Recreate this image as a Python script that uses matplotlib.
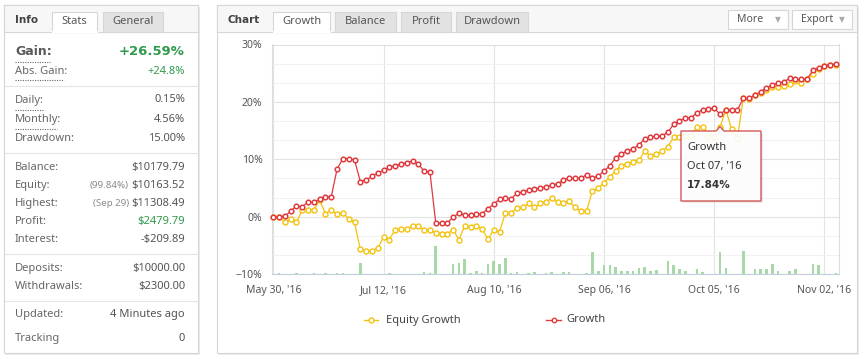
import matplotlib.pyplot as plt
from matplotlib.patches import Rectangle, Polygon
import numpy as np

plt.rcParams['font.family'] = ['Noto Sans', 'DejaVu Sans']
BOLD = ['DejaVu Sans']

# growth in % for every point on the chart (red line)
growth = [0.0, 0.0, 0.1, 0.9, 1.9, 1.7, 2.6, 2.5, 3.0, 3.5,
          3.5, 8.3, 10.1, 10.1, 9.9, 6.1, 6.4, 7.0, 7.6, 8.1,
          8.6, 8.9, 9.2, 9.4, 9.7, 9.2, 7.9, 7.8, -1.1, -1.1,
          -1.1, -0.1, 0.6, 0.3, 0.2, 0.4, 0.5, 1.4, 2.2, 3.0,
          3.2, 3.1, 4.1, 4.3, 4.6, 4.8, 5.0, 5.2, 5.5, 5.7,
          6.4, 6.7, 6.7, 6.7, 7.3, 6.7, 7.1, 7.9, 8.9, 10.2,
          11.0, 11.4, 11.8, 12.5, 13.5, 13.8, 14.0, 14.1, 14.7, 16.1,
          16.7, 17.2, 17.2, 18.1, 18.6, 18.8, 18.9, 17.84, 18.6, 18.6,
          18.6, 20.6, 20.6, 21.2, 21.7, 22.5, 22.9, 23.3, 23.5, 24.1,
          23.9, 23.9, 24.0, 25.5, 25.9, 26.3, 26.5, 26.59]

# equity growth in % (yellow line)
equity_growth = [0.0, 0.0, -1.0, -0.5, -1.0, 1.2, 1.2, 1.2, 2.9, 0.5,
                 1.2, 0.4, 0.7, -0.4, -1.0, -5.7, -6.0, -6.0, -5.5, -3.6,
                 -4.0, -2.3, -2.2, -2.2, -1.6, -1.6, -2.3, -2.4, -2.8, -3.0,
                 -3.0, -2.3, -4.0, -1.6, -1.8, -1.6, -2.2, -3.9, -2.3, -2.6,
                 0.6, 0.6, 1.5, 1.6, 2.3, 1.6, 2.3, 2.6, 3.2, 2.5,
                 2.3, 2.7, 1.6, 1.0, 1.0, 4.5, 5.0, 5.9, 6.9, 8.0,
                 8.9, 9.2, 9.6, 9.8, 11.4, 10.6, 10.9, 11.4, 12.2, 13.8,
                 13.8, 14.0, 14.0, 15.7, 15.7, 13.9, 13.9, 15.6, 18.6, 15.2,
                 13.7, 20.6, 20.5, 21.2, 21.6, 22.0, 22.6, 22.6, 22.7, 23.1,
                 23.6, 23.3, 23.9, 24.9, 25.8, 26.2, 26.4, 26.5]

# small green bars along the bottom (height in % units above -10%)
activity = [0, 0.15, 0, 0, 0.15, 0, 0, 0.15, 0, 0.15,
            0, 0.2, 0.2, 0, 0, 1.9, 0, 0, 0, 0,
            0.15, 0, 0, 0, 0, 0, 0.3, 0.2, 4.8, 0,
            0, 1.7, 2.0, 2.7, 0.2, 0.5, 0.2, 1.7, 2.2, 1.8,
            2.8, 0.2, 0.3, 0, 0.2, 0.3, 0, 0.2, 0.3, 0,
            0.3, 0.3, 0, 0, 0.2, 3.8, 0.5, 1.5, 1.5, 1.2,
            0.6, 0.6, 0.6, 1.0, 1.2, 0.6, 0.7, 0, 2.3, 1.6,
            0.8, 0.6, 0, 0.8, 0.3, 0, 0, 3.8, 1.0, 0,
            0, 4.0, 0, 0.8, 0.8, 0.8, 1.8, 0.6, 0, 0.6,
            0.8, 0, 0, 1.8, 1.5, 0, 0, 0.2]

x_ticks = [0, 19, 38, 57, 76, 95]
x_labels = ["May 30, '16", "Jul 12, '16", "Aug 10, '16",
            "Sep 06, '16", "Oct 05, '16", "Nov 02, '16"]
y_ticks = [-10, 0, 10, 20, 30]
y_labels = ['\u221210%', '0%', '10%', '20%', '30%']

tip_idx = 77
tip_date = "Oct 07, '16"

gain_rows = [("Abs. Gain:", "+24.8%")]
rate_rows = [("Daily:", "0.15%"), ("Monthly:", "4.56%"), ("Drawdown:", "15.00%")]
money_rows = [("Balance:", "", "$10179.79"), ("Equity:", "(99.84%)", "$10163.52"),
              ("Highest:", "(Sep 29)", "$11308.49"), ("Profit:", "", "$2479.79"),
              ("Interest:", "", "-$209.89")]
flow_rows = [("Deposits:", "$10000.00"), ("Withdrawals:", "$2300.00")]

RED = '#e0393e'
YELLOW = '#f4c20d'
GREEN = '#2f9a4c'
LABEL = '#666666'
VALUE = '#555555'
BORDER = '#d6d6d6'

fig = plt.figure(figsize=(8.64, 3.59), dpi=100)
fig.patch.set_facecolor('white')

# page layer in pixel coordinates
bg = fig.add_axes([0, 0, 1, 1])
bg.set_xlim(0, 864)
bg.set_ylim(359, 0)
bg.axis('off')


def box(x0, y0, x1, y1, fc='white', ec=BORDER, lw=0.8, z=1):
    bg.add_patch(Rectangle((x0, y0), x1 - x0, y1 - y0, facecolor=fc,
                           edgecolor=ec, linewidth=lw, zorder=z))


def hline(x0, x1, y, color='#e4e4e4'):
    bg.plot([x0, x1], [y, y], color=color, lw=0.8, zorder=3)


def dots(x0, x1, y):
    bg.plot([x0, x1], [y, y], color='#666666', lw=0.8, ls=(0, (1, 1.2)), zorder=3)


# panels with a soft shadow
for x0, x1 in [(4, 198), (217, 857)]:
    box(x0 + 2, 7, x1 + 2, 355, fc='#ebebeb', ec='none', z=0)
    box(x0, 5, x1, 353, z=1)
    box(x0, 5, x1, 32, fc='#f7f7f7', z=2)

# left panel header tabs
bg.text(15, 20, 'Info', fontsize=7.5, fontweight='bold', family=BOLD, color='#444444', va='center', zorder=4)
box(52, 12, 97, 32, fc='white', ec=BORDER, z=3)
bg.plot([52.5, 96.5], [32, 32], color='white', lw=1.5, zorder=3)
bg.text(74.5, 22, 'Stats', fontsize=8, color='#555555', ha='center', va='center', zorder=4)
box(103, 12, 163, 32, fc='#e2e2e2', ec=BORDER, z=3)
bg.text(133, 22, 'General', fontsize=8, color='#555555', ha='center', va='center', zorder=4)

# left panel rows
LX, RX = 15, 185
bg.text(LX, 51.5, 'Gain:', fontsize=9, fontweight='bold', family=BOLD, color='#5a5a5a', va='center', zorder=4)
bg.text(RX, 51.5, '+26.59%', fontsize=9.5, fontweight='bold', family=BOLD, color=GREEN,
        ha='right', va='center', zorder=4)
dots(LX, 50, 61.5)
for label, val in gain_rows:
    bg.text(LX, 71.5, label, fontsize=8, color=LABEL, va='center', zorder=4)
    bg.text(RX, 71.5, val, fontsize=8, color=GREEN, ha='right', va='center', zorder=4)
    dots(LX, 64, 80)
hline(5, 197, 86)

for k, (label, val) in enumerate(rate_rows):
    y = 100 + 19.3 * k
    bg.text(LX, y, label, fontsize=8, color=LABEL, va='center', zorder=4)
    bg.text(RX, y, val, fontsize=8, color=VALUE, ha='right', va='center', zorder=4)
dots(LX, 43, 109.5)
dots(LX, 57, 128.5)
hline(5, 197, 153)

for k, (label, note, val) in enumerate(money_rows):
    y = 167.3 + 18 * k
    bg.text(LX, y, label, fontsize=8, color=LABEL, va='center', zorder=4)
    col = GREEN if label == 'Profit:' else VALUE
    bg.text(RX, y, val, fontsize=8, color=col, ha='right', va='center', zorder=4)
    if note:
        bg.text(129, y, note, fontsize=7, color='#8a8a8a', ha='right', va='center', zorder=4)
hline(5, 197, 253.5)

for k, (label, val) in enumerate(flow_rows):
    y = 268.3 + 18.4 * k
    bg.text(LX, y, label, fontsize=8, color=LABEL, va='center', zorder=4)
    bg.text(RX, y, val, fontsize=8, color=VALUE, ha='right', va='center', zorder=4)
hline(5, 197, 300.5)

bg.text(LX, 315, 'Updated:', fontsize=8, color=LABEL, va='center', zorder=4)
bg.text(RX, 315, '4 Minutes ago', fontsize=8, color=VALUE, ha='right', va='center', zorder=4)
bg.text(LX, 338.3, 'Tracking', fontsize=8, color=LABEL, va='center', zorder=4)
bg.text(RX, 338.3, '0', fontsize=8, color=VALUE, ha='right', va='center', zorder=4)

# right panel header
bg.text(228, 20, 'Chart', fontsize=7.5, fontweight='bold', family=BOLD, color='#444444', va='center', zorder=4)
tabs = [('Growth', 273, 330), ('Balance', 335, 396), ('Profit', 401, 451), ('Drawdown', 456, 528)]
for k, (name, x0, x1) in enumerate(tabs):
    box(x0, 12, x1, 32, fc='white' if k == 0 else '#e2e2e2', ec=BORDER, z=3)
    bg.text((x0 + x1) / 2, 22, name, fontsize=8, color='#555555', ha='center', va='center', zorder=4)
bg.plot([273.5, 329.5], [32, 32], color='white', lw=1.5, zorder=3)
for name, x0, x1 in [('More', 728, 788), ('Export', 792, 852)]:
    box(x0, 10, x1, 29, fc='white', ec=BORDER, z=3)
    bg.text(x0 + 9, 19.5, name, fontsize=7.5, color='#555555', va='center', zorder=4)
    bg.text(x1 - 10, 19.5, '\u25bc', fontsize=5.5, color='#aaaaaa', ha='center', va='center',
            family='DejaVu Sans', zorder=4)

# legend
bg.plot([364, 378], [320, 320], color=YELLOW, lw=1, zorder=4)
bg.plot([371], [320], marker='o', ms=3.6, mfc='white', mec=YELLOW, mew=1, zorder=5)
bg.text(386, 320, 'Equity Growth', fontsize=8, color='#444444', va='center', zorder=4)
bg.plot([546, 561], [320, 320], color=RED, lw=1, zorder=4)
bg.plot([553.5], [320], marker='o', ms=3.2, mfc='white', mec=RED, mew=1, zorder=5)
bg.text(566, 320, 'Growth', fontsize=8, color='#444444', va='center', zorder=4)

# chart area
ax = fig.add_axes([272 / 864, (359 - 274) / 359, (839 - 272) / 864, (274 - 44.5) / 359])
ax.patch.set_alpha(0)
idx = np.arange(len(growth))

ax.set_xlim(-0.22, 97.5)
ax.set_ylim(-10, 30)
ax.set_yticks(y_ticks)
ax.set_yticklabels(y_labels)
ax.set_yticks(np.arange(-10, 30, 10 / 3), minor=True)
ax.set_xticks(x_ticks)
ax.set_xticklabels(x_labels)
ax.tick_params(axis='both', which='both', length=0, labelsize=7.5, colors='#555555')
ax.tick_params(axis='y', pad=7)
ax.tick_params(axis='x', pad=8)
ax.grid(True, which='major', color='#e3e3e3', lw=0.8)
ax.grid(True, which='minor', axis='y', color='#f1f1f1', lw=0.7)
ax.set_axisbelow(True)
for side in ['left', 'right', 'top']:
    ax.spines[side].set_color('#dddddd')
    ax.spines[side].set_linewidth(0.8)
ax.spines['bottom'].set_color('#c0cfdc')
ax.spines['bottom'].set_linewidth(0.8)

ax.bar(idx, activity, bottom=-10, width=0.45, color='#a8d8a8', zorder=2)
ax.plot(idx, equity_growth, color=YELLOW, lw=0.9, marker='o', ms=3.6,
        mfc='white', mec=YELLOW, mew=1.0, zorder=3, clip_on=False)
ax.plot(idx, growth, color=RED, lw=0.9, marker='o', ms=3.3,
        mfc='white', mec=RED, mew=1.1, zorder=4, clip_on=False)

# tooltip on top of everything
top = fig.add_axes([0, 0, 1, 1], zorder=5)
top.set_xlim(0, 864)
top.set_ylim(359, 0)
top.axis('off')
tip = [(681, 131), (716, 131), (720, 126.5), (724, 131), (761, 131), (761, 201), (681, 201)]
shadow = [(x + 2, y + 2) for x, y in tip]
top.add_patch(Polygon(shadow, closed=True, facecolor='#000000', alpha=0.08, edgecolor='none'))
top.add_patch(Polygon(tip, closed=True, facecolor='white', alpha=0.9, edgecolor='#d04545', lw=1))
top.text(687, 148, 'Growth', fontsize=8, color='#333333', va='center')
top.text(687, 166, tip_date, fontsize=8, color='#333333', va='center')
top.text(687, 184.5, '%.2f%%' % growth[tip_idx], fontsize=7.5, fontweight='bold', family=BOLD,
         color='#333333', va='center')

fig.savefig('out.png', dpi=100)
